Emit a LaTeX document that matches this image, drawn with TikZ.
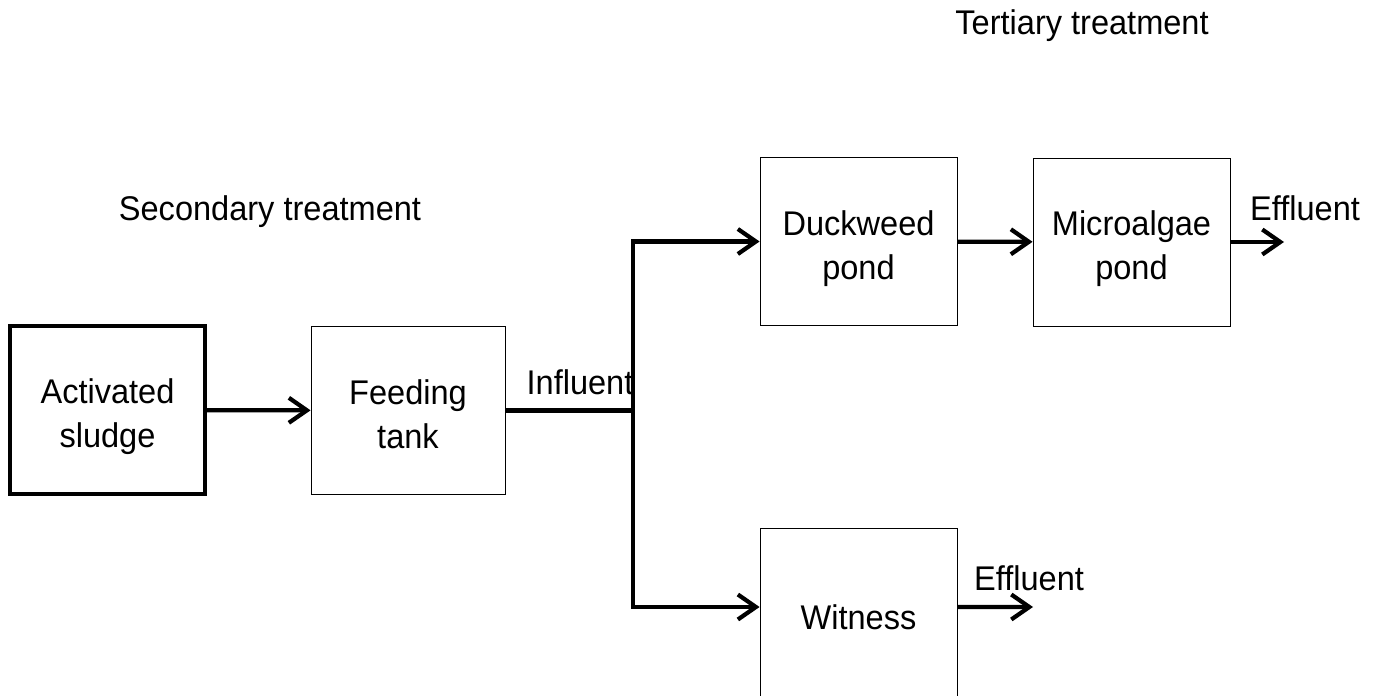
\documentclass[tikz,border=0pt]{standalone}
\usepackage{fontspec}
\setmainfont{Liberation Sans}[FakeStretch=0.95]
\usetikzlibrary{arrows.meta}
\newcommand\mytwolines[1]{\raisebox{-0.14cm}[\height][\depth]{\begin{tabular}{@{}c@{}}#1\end{tabular}}}
\begin{document}
\begin{tikzpicture}[x=0.02cm,y=-0.02cm,
 box/.style={draw, line width=0.5pt, rectangle, minimum width=3.94cm, minimum height=3.36cm, align=center, font=\fontsize{19.5}{25}\selectfont, inner sep=0pt},
 thickbox/.style={box, line width=1.9pt},
 lbl/.style={font=\fontsize{19.5}{22}\selectfont, inner sep=0pt},
 pipe/.style={line width=2.4pt},
 flow/.style={pipe, -{Straight Barb[length=0.36cm, width=0.5cm, line width=2.4pt]}}]
\useasboundingbox (0,0) rectangle (1377,696);
\clip (0,0) rectangle (1377,696);
% boxes
\node[thickbox, minimum width=3.9cm] (act) at (107.5,410) {\mytwolines{Activated\\sludge}};
\node[box, minimum width=3.88cm] (feed) at (408,410.5) {\mytwolines{Feeding\\tank}};
\node[box] (duck) at (858.5,241.5) {\mytwolines{Duckweed\\pond}};
\node[box] (micro) at (1131.5,242) {\mytwolines{Microalgae\\pond}};
\node[box, minimum height=3.72cm] (wit) at (858.5,621) {\begin{tabular}{@{}c@{}}Witness\end{tabular}};
% labels
\node[lbl] (ter) at (1082,26) {Tertiary treatment};
\node[lbl] (sec) at (270,212) {Secondary treatment};
\node[lbl] (inf) at (580,382) {Influent};
\node[lbl] (eff1) at (1305,208) {Effluent};
\node[lbl] (eff2) at (1029,578) {Effluent};
% junction and free ends
\coordinate (j) at (633,410.5);
\coordinate (e1) at (1284,242);
\coordinate (e2) at (1033,607);
% connectors
\draw[flow] (act) -- (feed);
\draw[pipe] (feed.east) -- (j);
\draw[flow] (j) |- (duck.west);
\draw[flow] (j) |- ([yshift=0.28cm]wit.west);
\draw[flow] (duck) -- (micro);
\draw[flow] (micro.east) -- (e1);
\draw[flow] ([yshift=0.28cm]wit.east) -- (e2);
\end{tikzpicture}
\end{document}
